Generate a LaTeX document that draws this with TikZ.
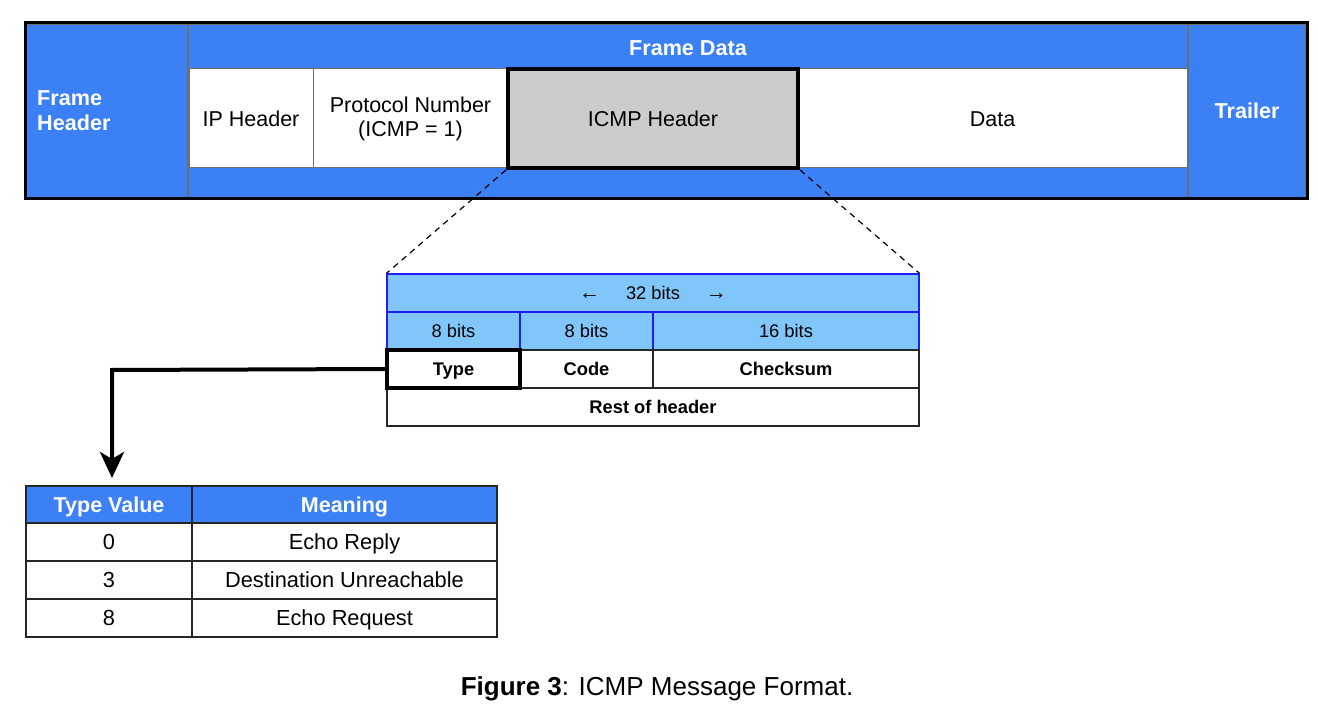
\documentclass[tikz,border=0pt]{standalone}
\usepackage{fontspec}
\setmainfont{Liberation Sans}
\usetikzlibrary{arrows.meta}
\definecolor{fblue}{RGB}{59,128,245}
\definecolor{lblue}{RGB}{128,198,250}
\definecolor{bblue}{RGB}{30,30,250}
\definecolor{gcell}{RGB}{204,204,204}
\definecolor{gline}{RGB}{110,110,110}
\tikzset{
  cell/.style={draw, inner sep=0pt, anchor=center, font=\fontsize{21.5}{24}\selectfont, align=center},
  oneline/.style={text height=#1, text depth=0pt},
  bluebg/.style={cell, fill=fblue, draw=gline, line width=2pt},
  whitecell/.style={cell, fill=white, draw=gline, line width=1pt},
  bitcell/.style={cell, oneline=13.1pt, fill=lblue, draw=bblue, line width=1.2pt, font=\fontsize{18.3}{21}\selectfont},
  fieldcell/.style={cell, oneline=13.1pt, fill=white, draw=black!85, line width=1.2pt, font=\bfseries\fontsize{18.3}{21}\selectfont},
  tcell/.style={cell, oneline=15.6pt, fill=white, draw=black!85, line width=1.2pt, font=\fontsize{21.8}{24}\selectfont},
  thead/.style={tcell, fill=fblue, text=white, font=\bfseries\fontsize{21.5}{24}\selectfont},
  wlabel/.style={text=white, font=\bfseries\fontsize{21.6}{25}\selectfont, inner sep=0pt},
  thickbox/.style={draw=black, line width=4pt},
  zoomline/.style={draw=black, line width=1.2pt, dashed, dash pattern=on 6pt off 5pt},
}
\begin{document}
\begin{tikzpicture}[x=1pt,y=-1pt]
\useasboundingbox (0,0) rectangle (1318,708);
% top frame
\node[bluebg, minimum width=162, minimum height=174] (fh) at (107,111) {};
\node[bluebg, minimum width=1000, minimum height=174] (fd) at (688,111) {};
\node[bluebg, minimum width=118, minimum height=174] (tr) at (1247,111) {};
\draw[line width=3pt] (fh.north west) rectangle (tr.south east);
\node[wlabel, anchor=west, align=left] (fhl) at (37,111) {Frame\\Header};
\node[wlabel, oneline=15.5pt] (fdl) at (688,48) {Frame Data};
\node[wlabel, oneline=15.5pt] (trl) at (1247,111) {Trailer};
% inner row
\node[whitecell, oneline=15.4pt, minimum width=124, minimum height=99] (ip) at (251,118.5) {IP Header};
\node[whitecell, minimum width=195, minimum height=99] (proto) at (410.5,118.5) {Protocol Number\\(ICMP = 1)};
\node[whitecell, oneline=15.4pt, minimum width=389, minimum height=99] (data) at (992.5,118.5) {Data};
\node[cell, oneline=15.4pt, fill=gcell, thickbox, minimum width=290, minimum height=99] (icmp) at (653,118.5) {ICMP Header};
% ICMP header detail
\node[bitcell, minimum width=532, minimum height=38] (bits32) at (653,293) {{\fontsize{21}{21}\selectfont ←}\hspace{26pt}32 bits\hspace{26pt}{\fontsize{21}{21}\selectfont →}};
\node[bitcell, minimum width=133, minimum height=38] (b1) at (453.5,331) {8 bits};
\node[bitcell, minimum width=133, minimum height=38] (b2) at (586.5,331) {8 bits};
\node[bitcell, minimum width=266, minimum height=38] (b3) at (786,331) {16 bits};
\node[fieldcell, minimum width=133, minimum height=38] (code) at (586.5,369) {Code};
\node[fieldcell, minimum width=266, minimum height=38] (chk) at (786,369) {Checksum};
\node[fieldcell, minimum width=532, minimum height=38] (rest) at (653,407) {Rest of header};
\node[fieldcell, thickbox, minimum width=133, minimum height=38] (type) at (453.5,369) {Type};
\draw[zoomline] (icmp.south west) -- (bits32.north west);
\draw[zoomline] (icmp.south east) -- (bits32.north east);
% type table
\node[thead, minimum width=166, minimum height=37] (th1) at (109,504.5) {Type Value};
\node[thead, minimum width=305, minimum height=37] (th2) at (344.5,504.5) {Meaning};
\node[tcell, minimum width=166, minimum height=38] (v0) at (109,542) {0};
\node[tcell, minimum width=305, minimum height=38] (m0) at (344.5,542) {Echo Reply};
\node[tcell, minimum width=166, minimum height=38] (v3) at (109,580) {3};
\node[tcell, minimum width=305, minimum height=38] (m3) at (344.5,580) {Destination Unreachable};
\node[tcell, minimum width=166, minimum height=38] (v8) at (109,618) {8};
\node[tcell, minimum width=305, minimum height=38] (m8) at (344.5,618) {Echo Request};
% arrow
\coordinate (bend) at (112,370);
\coordinate (tip) at (112,478);
\draw[line width=4pt, -{Stealth[length=26pt,width=24pt,inset=7pt]}] (type.west) -- (bend) -- (tip);
% caption
\node[font=\fontsize{26}{30}\selectfont, inner sep=0pt, oneline=18.6pt] (cap) at (657,686) {\textbf{Figure 3}: ICMP Message Format.};
\end{tikzpicture}
\end{document}
